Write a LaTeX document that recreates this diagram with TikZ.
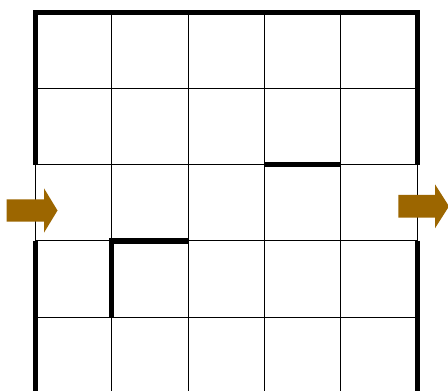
\documentclass[tikz,border=0pt]{standalone}
\definecolor{arrowbrown}{RGB}{156,102,0}
\begin{document}
\begin{tikzpicture}[x=0.75pt,y=-0.75pt,
  gridline/.style={black,line width=0.8pt},
  wall/.style={black,line width=4.1pt,line join=miter,line cap=butt},
  bigarrow/.style={fill=arrowbrown,draw=none}]
\useasboundingbox (0,0) rectangle (448,391);
\clip (0,0) rectangle (448,391);
\fill[white] (0,0) rectangle (448,391);
% grid
\foreach \x in {35.3,111.7,188.1,264.5,340.9,417.3}
  \draw[gridline] (\x,12.3) -- (\x,400);
\foreach \y in {12.3,88.5,164.7,240.9,317.1}
  \draw[gridline] (35.3,\y) -- (417.3,\y);
% outer walls
\draw[wall] (35.3,164.7) -- (35.3,12.3) -- (417.3,12.3) -- (417.3,164.7);
\draw[wall] (35.3,240.9) -- (35.3,400);
\draw[wall] (417.3,240.9) -- (417.3,400);
% inner walls
\draw[wall] (264.5,164.7) -- (340.9,164.7);
\draw[wall] (188.1,240.9) -- (111.7,240.9) -- (111.7,317.1);
% arrows
\fill[bigarrow] (6.7,199.3) -- (44,199.3) -- (44,188.3) -- (57.5,210.5) -- (44,232.7) -- (44,221.7) -- (6.7,221.7) -- cycle;
\fill[bigarrow] (398.3,195) -- (435,195) -- (435,184.3) -- (449,206.3) -- (435,228.3) -- (435,217.7) -- (398.3,217.7) -- cycle;
\end{tikzpicture}
\end{document}
